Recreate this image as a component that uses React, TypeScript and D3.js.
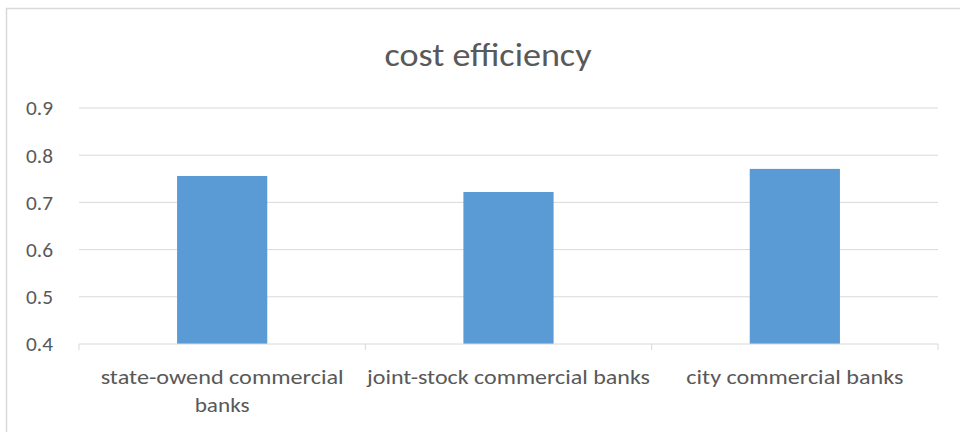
import React from "react";
import * as d3 from "d3";

const categories = ["state-owend commercial banks", "joint-stock commercial banks", "city commercial banks"];
const categoryLines = [["state-owend commercial", "banks"], ["joint-stock commercial banks"], ["city commercial banks"]];
const values = [0.756, 0.722, 0.771];
const yTicks = [0.4, 0.5, 0.6, 0.7, 0.8, 0.9];
const title = "cost efficiency";

const W = 960, H = 432;
const margin = { left: 79, right: 22, top: 108, bottom: 88 };
const font = "Carlito, Calibri, 'Liberation Sans Narrow', 'Open Sans', sans-serif";
const lineWidths = [[243, 55], [283], [217]];

export default function App() {
  const x = d3.scaleBand<string>().domain(categories).range([margin.left, W - margin.right]).paddingInner(0).paddingOuter(0);
  const y = d3.scaleLinear().domain([0.4, 0.9]).range([H - margin.bottom, margin.top]);
  const bw = x.bandwidth() * 0.315;
  const grey = "#595959";
  return (
    <svg width={W} height={H} style={{ position: "absolute", left: 0, top: 0, background: "#fff" }} fontFamily={font}>
      <rect x={0} y={0} width={W} height={H} fill="#fff" />
      <line x1={6.5} x2={6.5} y1={8} y2={H} stroke="#d9d9d9" strokeWidth={1.5} />
      <line x1={6} x2={W} y1={8.5} y2={8.5} stroke="#d9d9d9" strokeWidth={1.5} />
      <text x={488} y={66} textAnchor="middle" fontSize={32} fill={grey} textLength={207} lengthAdjust="spacingAndGlyphs">{title}</text>
      {yTicks.map((t) => (
        <g key={t}>
          {t > 0.4 && <line x1={margin.left} x2={W - margin.right} y1={y(t)} y2={y(t)} stroke="#d9d9d9" strokeWidth={1} />}
          <text x={53} y={y(t)} dy="0.35em" textAnchor="end" fontSize={21} fill={grey} textLength={27} lengthAdjust="spacingAndGlyphs">{t.toFixed(1)}</text>
        </g>
      ))}
      {categories.map((c, i) => (
        <rect key={c} x={x(c)! + (x.bandwidth() - bw) / 2} y={y(values[i])} width={bw} height={y(0.4) - y(values[i])} fill="#5b9bd5" />
      ))}
      <line x1={margin.left} x2={W - margin.right} y1={y(0.4)} y2={y(0.4)} stroke="#d9d9d9" strokeWidth={1} />
      {[...categories.map((c) => x(c)!), W - margin.right].map((px, i) => (
        <line key={i} x1={px} x2={px} y1={y(0.4)} y2={y(0.4) + 6} stroke="#d9d9d9" strokeWidth={1} />
      ))}
      {categories.map((c, i) => (
        <g key={c}>
          {categoryLines[i].map((ln, j) => (
            <text key={j} x={x(c)! + x.bandwidth() / 2} y={384 + j * 28} textAnchor="middle" fontSize={21} fill={grey} textLength={lineWidths[i][j]} lengthAdjust="spacingAndGlyphs">{ln}</text>
          ))}
        </g>
      ))}
    </svg>
  );
}
